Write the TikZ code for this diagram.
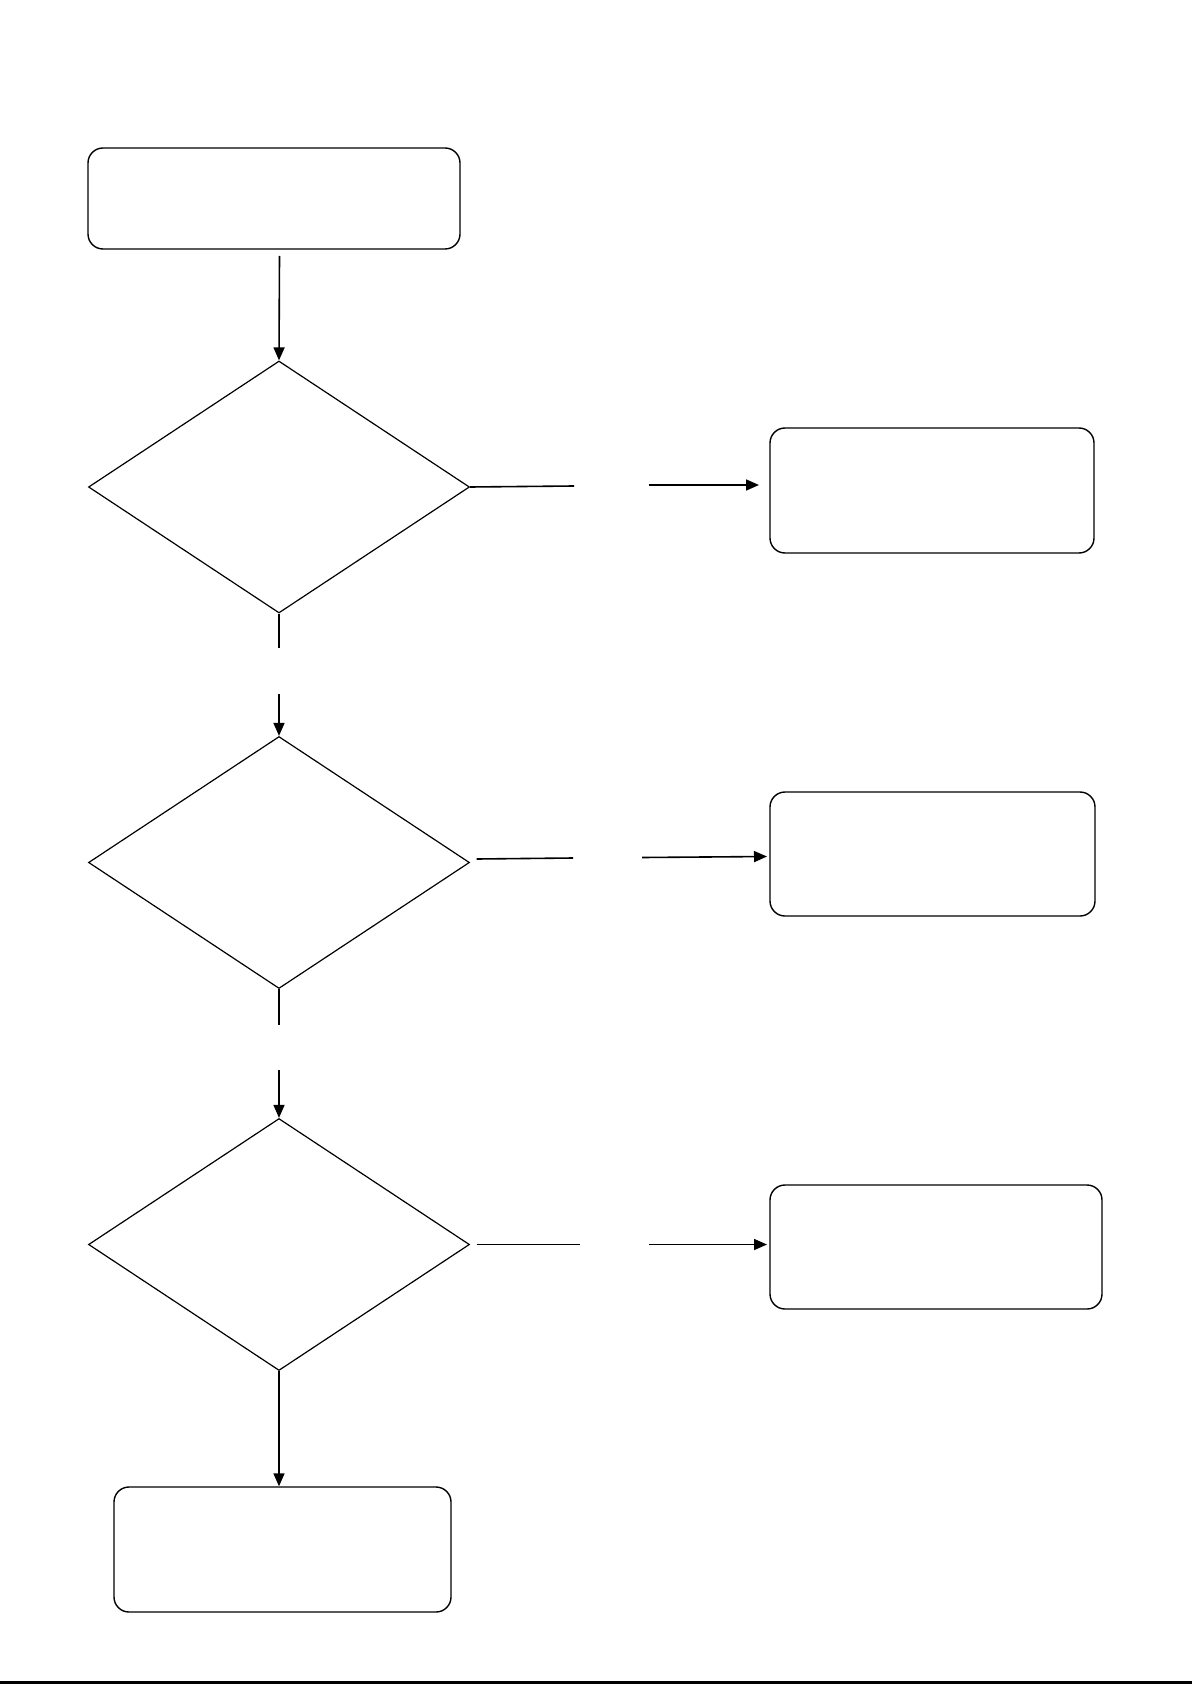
\documentclass[tikz,border=0pt]{standalone}
\usetikzlibrary{shapes.geometric,arrows.meta}
\begin{document}
\begin{tikzpicture}[x=0.5pt,y=-0.5pt,
  box/.style={draw,rounded corners=7.5pt,line width=0.7pt,inner sep=0pt},
  dec/.style={draw,diamond,line width=0.6pt,inner sep=0pt,minimum width=190.5pt,minimum height=126pt},
  conn/.style={line width=0.8pt},
  arr/.style={line width=0.8pt,-{Triangle[length=6.5pt,width=5.5pt]}}]
\useasboundingbox (0,0) rectangle (1192,1684);
% nodes
\node[box,minimum width=186pt,minimum height=50.5pt] (top) at (274,198.5) {};
\node[dec] (d1) at (279,487) {};
\node[dec] (d2) at (279,862.5) {};
\node[dec] (d3) at (279,1244.5) {};
\node[box,minimum width=162pt,minimum height=62.5pt] (r1) at (932,490.5) {};
\node[box,minimum width=162.5pt,minimum height=62pt] (r2) at (932.5,854) {};
\node[box,minimum width=166pt,minimum height=62pt] (r3) at (936,1247) {};
\node[box,minimum width=168.5pt,minimum height=62.5pt] (bot) at (282.5,1549.5) {};
% helper coordinates
\coordinate (a1) at (279.5,256);
\coordinate (v1a) at (279,648);
\coordinate (v1b) at (279,694);
\coordinate (v2a) at (279,1025);
\coordinate (v2b) at (279,1070);
\coordinate (h1a) at (574,486);
\coordinate (h1b) at (649,485);
\coordinate (h1c) at (759,485);
\coordinate (h2s) at (476.5,859);
\coordinate (h2a) at (573,858);
\coordinate (h2b) at (642,857.5);
\coordinate (h2c) at (767,856.5);
\coordinate (h3s) at (476.5,1244.5);
\coordinate (h3a) at (580,1244.5);
\coordinate (h3b) at (649,1244.5);
\coordinate (h3c) at (767,1244.5);
\coordinate (bl) at (0,1682.5);
\coordinate (br) at (1192,1682.5);
% connectors
\draw[arr] (a1) -- (d1.north);
\draw[conn] (d1.east) -- (h1a);
\draw[arr] (h1b) -- (h1c);
\draw[conn] (d1.south) -- (v1a);
\draw[arr] (v1b) -- (d2.north);
\draw[conn] (h2s) -- (h2a);
\draw[arr] (h2b) -- (h2c);
\draw[conn] (d2.south) -- (v2a);
\draw[arr] (v2b) -- (d3.north);
\draw[conn] (h3s) -- (h3a);
\draw[arr] (h3b) -- (h3c);
\draw[arr] (d3.south) -- (d3.south |- bot.north);
\draw[line width=1.5pt] (bl) -- (br);
\end{tikzpicture}
\end{document}
